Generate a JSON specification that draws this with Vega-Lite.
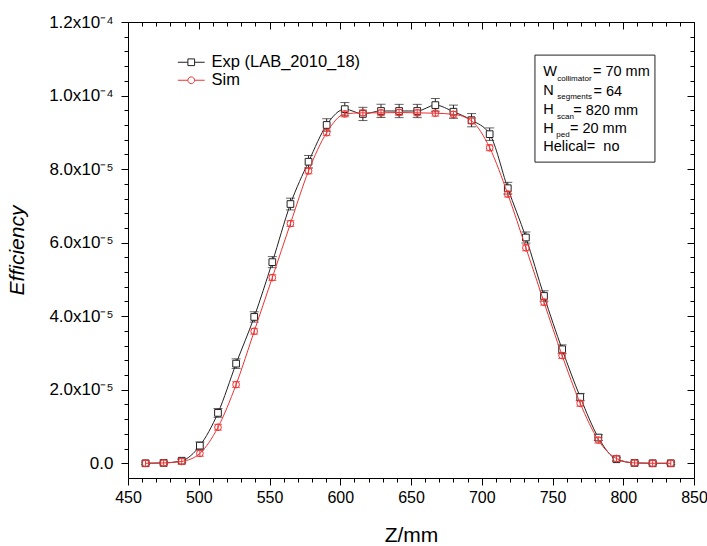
{
"$schema": "https://vega.github.io/schema/vega-lite/v6.json",
"width": 566, "height": 456,
"autosize": {"type": "none"},
"padding": {"left": 128, "top": 22, "right": 13, "bottom": 68},
"background": "white",
"config": {"view": {"stroke": null}, "axis": {"labelFont": "Liberation Sans", "titleFont": "Liberation Sans", "labelColor": "black", "titleColor": "black", "domainColor": "black", "tickColor": "black", "grid": false, "titleFontWeight": "normal", "domainWidth": 1, "tickWidth": 1}},
"data": {"values": [
{"z": 462.4, "series": "Exp (LAB_2010_18)", "eff": 0, "err": 3e-7},
{"z": 475.2, "series": "Exp (LAB_2010_18)", "eff": 1e-7, "err": 3e-7},
{"z": 488.0, "series": "Exp (LAB_2010_18)", "eff": 7e-7, "err": 4e-7},
{"z": 500.8, "series": "Exp (LAB_2010_18)", "eff": 4.8e-6, "err": 1.0e-6},
{"z": 513.6, "series": "Exp (LAB_2010_18)", "eff": 1.37e-5, "err": 1.2e-6},
{"z": 526.4, "series": "Exp (LAB_2010_18)", "eff": 2.71e-5, "err": 1.3e-6},
{"z": 539.2, "series": "Exp (LAB_2010_18)", "eff": 3.98e-5, "err": 1.4e-6},
{"z": 552.0, "series": "Exp (LAB_2010_18)", "eff": 5.47e-5, "err": 1.5e-6},
{"z": 564.8, "series": "Exp (LAB_2010_18)", "eff": 7.05e-5, "err": 1.6e-6},
{"z": 577.6, "series": "Exp (LAB_2010_18)", "eff": 8.2e-5, "err": 1.7e-6},
{"z": 590.4, "series": "Exp (LAB_2010_18)", "eff": 9.2e-5, "err": 1.7e-6},
{"z": 603.2, "series": "Exp (LAB_2010_18)", "eff": 9.63e-5, "err": 1.8e-6},
{"z": 616.0, "series": "Exp (LAB_2010_18)", "eff": 9.5e-5, "err": 1.8e-6},
{"z": 628.8, "series": "Exp (LAB_2010_18)", "eff": 9.58e-5, "err": 1.8e-6},
{"z": 641.6, "series": "Exp (LAB_2010_18)", "eff": 9.58e-5, "err": 1.8e-6},
{"z": 654.4, "series": "Exp (LAB_2010_18)", "eff": 9.58e-5, "err": 1.8e-6},
{"z": 667.2, "series": "Exp (LAB_2010_18)", "eff": 9.74e-5, "err": 1.8e-6},
{"z": 680.0, "series": "Exp (LAB_2010_18)", "eff": 9.56e-5, "err": 1.8e-6},
{"z": 692.8, "series": "Exp (LAB_2010_18)", "eff": 9.33e-5, "err": 1.8e-6},
{"z": 705.6, "series": "Exp (LAB_2010_18)", "eff": 8.95e-5, "err": 1.7e-6},
{"z": 718.4, "series": "Exp (LAB_2010_18)", "eff": 7.48e-5, "err": 1.6e-6},
{"z": 731.2, "series": "Exp (LAB_2010_18)", "eff": 6.14e-5, "err": 1.5e-6},
{"z": 744.0, "series": "Exp (LAB_2010_18)", "eff": 4.55e-5, "err": 1.4e-6},
{"z": 756.8, "series": "Exp (LAB_2010_18)", "eff": 3.10e-5, "err": 1.2e-6},
{"z": 769.6, "series": "Exp (LAB_2010_18)", "eff": 1.80e-5, "err": 1.0e-6},
{"z": 782.4, "series": "Exp (LAB_2010_18)", "eff": 7.0e-6, "err": 8e-7},
{"z": 795.2, "series": "Exp (LAB_2010_18)", "eff": 1.1e-6, "err": 5e-7},
{"z": 808.0, "series": "Exp (LAB_2010_18)", "eff": 1e-7, "err": 3e-7},
{"z": 820.8, "series": "Exp (LAB_2010_18)", "eff": 0, "err": 3e-7},
{"z": 833.6, "series": "Exp (LAB_2010_18)", "eff": 0, "err": 3e-7},
{"z": 462.4, "series": "Sim", "eff": 0, "err": 8e-7},
{"z": 475.2, "series": "Sim", "eff": 1e-7, "err": 8e-7},
{"z": 488.0, "series": "Sim", "eff": 5e-7, "err": 8e-7},
{"z": 500.8, "series": "Sim", "eff": 2.7e-6, "err": 8e-7},
{"z": 513.6, "series": "Sim", "eff": 9.8e-6, "err": 8e-7},
{"z": 526.4, "series": "Sim", "eff": 2.14e-5, "err": 8e-7},
{"z": 539.2, "series": "Sim", "eff": 3.59e-5, "err": 8e-7},
{"z": 552.0, "series": "Sim", "eff": 5.05e-5, "err": 8e-7},
{"z": 564.8, "series": "Sim", "eff": 6.52e-5, "err": 8e-7},
{"z": 577.6, "series": "Sim", "eff": 7.95e-5, "err": 8e-7},
{"z": 590.4, "series": "Sim", "eff": 8.99e-5, "err": 8e-7},
{"z": 603.2, "series": "Sim", "eff": 9.5e-5, "err": 8e-7},
{"z": 616.0, "series": "Sim", "eff": 9.53e-5, "err": 8e-7},
{"z": 628.8, "series": "Sim", "eff": 9.53e-5, "err": 8e-7},
{"z": 641.6, "series": "Sim", "eff": 9.54e-5, "err": 8e-7},
{"z": 654.4, "series": "Sim", "eff": 9.53e-5, "err": 8e-7},
{"z": 667.2, "series": "Sim", "eff": 9.52e-5, "err": 8e-7},
{"z": 680.0, "series": "Sim", "eff": 9.49e-5, "err": 8e-7},
{"z": 692.8, "series": "Sim", "eff": 9.31e-5, "err": 8e-7},
{"z": 705.6, "series": "Sim", "eff": 8.58e-5, "err": 8e-7},
{"z": 718.4, "series": "Sim", "eff": 7.32e-5, "err": 8e-7},
{"z": 731.2, "series": "Sim", "eff": 5.86e-5, "err": 8e-7},
{"z": 744.0, "series": "Sim", "eff": 4.38e-5, "err": 8e-7},
{"z": 756.8, "series": "Sim", "eff": 2.93e-5, "err": 8e-7},
{"z": 769.6, "series": "Sim", "eff": 1.63e-5, "err": 8e-7},
{"z": 782.4, "series": "Sim", "eff": 6.3e-6, "err": 8e-7},
{"z": 795.2, "series": "Sim", "eff": 1.3e-6, "err": 8e-7},
{"z": 808.0, "series": "Sim", "eff": 1e-7, "err": 8e-7},
{"z": 820.8, "series": "Sim", "eff": 0, "err": 8e-7},
{"z": 833.6, "series": "Sim", "eff": 0, "err": 8e-7}
]},
"layer": [
{"transform": [{"filter": "datum.series == 'Exp (LAB_2010_18)'"}],
 "mark": {"type": "line", "interpolate": "monotone", "color": "#222222", "strokeWidth": 1},
 "encoding": {
  "x": {"field": "z", "type": "quantitative", "scale": {"domain": [450, 850], "nice": false, "zero": false},
   "axis": {"orient": "bottom", "values": [450,460,470,480,490,500,510,520,530,540,550,560,570,580,590,600,610,620,630,640,650,660,670,680,690,700,710,720,730,740,750,760,770,780,790,800,810,820,830,840,850],
    "labelExpr": "datum.value % 50 == 0 ? datum.label : ''",
    "tickSize": {"condition": {"test": "datum.value % 50 == 0", "value": 7}, "value": 4},
    "labelFontSize": 16, "labelPadding": 4, "labelFlush": false, "labelOverlap": false,
    "title": "Z/mm", "titleFontSize": 21, "titlePadding": 19}},
  "y": {"field": "eff", "type": "quantitative", "scale": {"domain": [-0.000004, 0.00012], "nice": false, "zero": false},
   "axis": {"orient": "left", "values": [0,4e-6,8e-6,1.2e-5,1.6e-5,2e-5,2.4e-5,2.8e-5,3.2e-5,3.6e-5,4e-5,4.4e-5,4.8e-5,5.2e-5,5.6e-5,6e-5,6.4e-5,6.8e-5,7.2e-5,7.6e-5,8e-5,8.4e-5,8.8e-5,9.2e-5,9.6e-5,1e-4,1.04e-4,1.08e-4,1.12e-4,1.16e-4,1.2e-4],
    "labelExpr": "abs(datum.value*50000 - round(datum.value*50000)) > 0.01 ? '' : (datum.value == 0 ? '0.0' : (datum.value > 0.000099 ? format(datum.value*10000, '.1f') + 'x10⁻⁴' : format(datum.value*100000, '.1f') + 'x10⁻⁵'))",
    "tickSize": {"condition": {"test": "abs(datum.value*50000 - round(datum.value*50000)) < 0.01", "value": 7}, "value": 4},
    "labelFontSize": 17, "labelPadding": 8, "labelFlush": false, "labelOverlap": false,
    "title": "Efficiency", "titleFontSize": 21, "titleFontStyle": "italic", "titlePadding": 21}}
 }},
{"transform": [{"filter": "datum.series == 'Exp (LAB_2010_18)'"}],
 "mark": {"type": "errorbar", "ticks": true, "size": 9, "thickness": 1, "color": "#222222"},
 "encoding": {
  "x": {"field": "z", "type": "quantitative", "scale": {"domain": [450, 850], "nice": false, "zero": false}, "axis": null},
  "y": {"field": "eff", "type": "quantitative", "scale": {"domain": [-0.000004, 0.00012], "nice": false, "zero": false}, "axis": null},
  "yError": {"field": "err"}
 }},
{"transform": [{"filter": "datum.series == 'Exp (LAB_2010_18)'"}],
 "mark": {"type": "point", "shape": "square", "filled": true, "fill": "white", "stroke": "#222222", "strokeWidth": 1, "size": 45, "opacity": 1},
 "encoding": {
  "x": {"field": "z", "type": "quantitative", "scale": {"domain": [450, 850], "nice": false, "zero": false}, "axis": null},
  "y": {"field": "eff", "type": "quantitative", "scale": {"domain": [-0.000004, 0.00012], "nice": false, "zero": false}, "axis": null}
 }},
{"transform": [{"filter": "datum.series == 'Sim'"}],
 "mark": {"type": "line", "interpolate": "monotone", "color": "#ee3333", "strokeWidth": 1},
 "encoding": {
  "x": {"field": "z", "type": "quantitative", "scale": {"domain": [450, 850], "nice": false, "zero": false},
   "axis": {"orient": "top", "values": [450,460,470,480,490,500,510,520,530,540,550,560,570,580,590,600,610,620,630,640,650,660,670,680,690,700,710,720,730,740,750,760,770,780,790,800,810,820,830,840,850],
    "labels": false, "title": null,
    "tickSize": {"condition": {"test": "datum.value % 50 == 0", "value": -7}, "value": -4}}},
  "y": {"field": "eff", "type": "quantitative", "scale": {"domain": [-0.000004, 0.00012], "nice": false, "zero": false},
   "axis": {"orient": "right", "values": [0,4e-6,8e-6,1.2e-5,1.6e-5,2e-5,2.4e-5,2.8e-5,3.2e-5,3.6e-5,4e-5,4.4e-5,4.8e-5,5.2e-5,5.6e-5,6e-5,6.4e-5,6.8e-5,7.2e-5,7.6e-5,8e-5,8.4e-5,8.8e-5,9.2e-5,9.6e-5,1e-4,1.04e-4,1.08e-4,1.12e-4,1.16e-4,1.2e-4],
    "labels": false, "title": null,
    "tickSize": {"condition": {"test": "abs(datum.value*50000 - round(datum.value*50000)) < 0.01", "value": -7}, "value": -4}}}
 }},
{"transform": [{"filter": "datum.series == 'Sim'"}],
 "mark": {"type": "errorbar", "ticks": true, "size": 8, "thickness": 1, "color": "#ee3333"},
 "encoding": {
  "x": {"field": "z", "type": "quantitative", "scale": {"domain": [450, 850], "nice": false, "zero": false}, "axis": null},
  "y": {"field": "eff", "type": "quantitative", "scale": {"domain": [-0.000004, 0.00012], "nice": false, "zero": false}, "axis": null},
  "yError": {"field": "err"}
 }},
{"transform": [{"filter": "datum.series == 'Sim'"}],
 "mark": {"type": "point", "shape": "circle", "filled": false, "stroke": "#ee3333", "strokeWidth": 1, "size": 45, "opacity": 1},
 "encoding": {
  "x": {"field": "z", "type": "quantitative", "scale": {"domain": [450, 850], "nice": false, "zero": false}, "axis": null},
  "y": {"field": "eff", "type": "quantitative", "scale": {"domain": [-0.000004, 0.00012], "nice": false, "zero": false}, "axis": null}
 }},
{"mark": {"type": "point", "opacity": 0, "strokeWidth": 1},
 "encoding": {
  "x": {"field": "z", "type": "quantitative", "scale": {"domain": [450, 850], "nice": false, "zero": false}, "axis": null},
  "y": {"field": "eff", "type": "quantitative", "scale": {"domain": [-0.000004, 0.00012], "nice": false, "zero": false}, "axis": null},
  "shape": {"field": "series", "type": "nominal", "scale": {"domain": ["Exp (LAB_2010_18)", "Sim"], "range": ["M-2,0H-0.5M0.5,0H2M-0.5,-0.5H0.5V0.5H-0.5Z", "M-2,0H-0.5M0.5,0H2M-0.5,0A0.5,0.5,0,1,0,0.5,0A0.5,0.5,0,1,0,-0.5,0Z"]},
   "legend": {"orient": "none", "legendX": 55, "legendY": 32, "title": null, "labelFont": "Liberation Sans", "labelFontSize": 16.5, "labelColor": "black", "symbolSize": 180, "symbolStrokeWidth": 1, "symbolOpacity": 1, "symbolFillColor": "white", "labelOffset": 12, "rowPadding": 1}},
  "color": {"field": "series", "type": "nominal", "scale": {"domain": ["Exp (LAB_2010_18)", "Sim"], "range": ["#222222", "#ee3333"]},
   "legend": {"orient": "none", "legendX": 55, "legendY": 32, "title": null, "labelFont": "Liberation Sans", "labelFontSize": 16.5, "labelColor": "black", "symbolSize": 180, "symbolStrokeWidth": 1, "symbolOpacity": 1, "symbolFillColor": "white", "labelOffset": 12, "rowPadding": 1}}
 }},
{"data": {"values": [{}]},
 "mark": {"type": "rect", "fill": "white", "stroke": "#222222", "strokeWidth": 1},
 "encoding": {
  "x": {"datum": 737.6, "type": "quantitative", "scale": {"domain": [450, 850], "nice": false, "zero": false}, "axis": null},
  "x2": {"datum": 822.4},
  "y": {"datum": 0.000111, "type": "quantitative", "scale": {"domain": [-0.000004, 0.00012], "nice": false, "zero": false}, "axis": null},
  "y2": {"datum": 0.0000819}
 }},
{"data": {"values": [{}]}, "mark": {"type": "text", "text": "W", "align": "left", "baseline": "middle", "font": "Liberation Sans", "fontSize": 14.5, "color": "black"},
 "encoding": {"x": {"datum": 743.5, "type": "quantitative", "scale": {"domain": [450, 850], "nice": false, "zero": false}, "axis": null}, "y": {"datum": 0.0001065, "type": "quantitative", "scale": {"domain": [-0.000004, 0.00012], "nice": false, "zero": false}, "axis": null}}},
{"data": {"values": [{}]}, "mark": {"type": "text", "text": "collimator", "align": "left", "baseline": "middle", "font": "Liberation Sans", "fontSize": 8, "color": "black"},
 "encoding": {"x": {"datum": 753.4, "type": "quantitative", "scale": {"domain": [450, 850], "nice": false, "zero": false}, "axis": null}, "y": {"datum": 0.0001044, "type": "quantitative", "scale": {"domain": [-0.000004, 0.00012], "nice": false, "zero": false}, "axis": null}}},
{"data": {"values": [{}]}, "mark": {"type": "text", "text": "= 70 mm", "align": "left", "baseline": "middle", "font": "Liberation Sans", "fontSize": 14.5, "color": "black"},
 "encoding": {"x": {"datum": 778.6, "type": "quantitative", "scale": {"domain": [450, 850], "nice": false, "zero": false}, "axis": null}, "y": {"datum": 0.0001063, "type": "quantitative", "scale": {"domain": [-0.000004, 0.00012], "nice": false, "zero": false}, "axis": null}}},
{"data": {"values": [{}]}, "mark": {"type": "text", "text": "N", "align": "left", "baseline": "middle", "font": "Liberation Sans", "fontSize": 14.5, "color": "black"},
 "encoding": {"x": {"datum": 743.5, "type": "quantitative", "scale": {"domain": [450, 850], "nice": false, "zero": false}, "axis": null}, "y": {"datum": 0.0001013, "type": "quantitative", "scale": {"domain": [-0.000004, 0.00012], "nice": false, "zero": false}, "axis": null}}},
{"data": {"values": [{}]}, "mark": {"type": "text", "text": "segments", "align": "left", "baseline": "middle", "font": "Liberation Sans", "fontSize": 8, "color": "black"},
 "encoding": {"x": {"datum": 753.4, "type": "quantitative", "scale": {"domain": [450, 850], "nice": false, "zero": false}, "axis": null}, "y": {"datum": 0.0000995, "type": "quantitative", "scale": {"domain": [-0.000004, 0.00012], "nice": false, "zero": false}, "axis": null}}},
{"data": {"values": [{}]}, "mark": {"type": "text", "text": "= 64", "align": "left", "baseline": "middle", "font": "Liberation Sans", "fontSize": 14.5, "color": "black"},
 "encoding": {"x": {"datum": 779.0, "type": "quantitative", "scale": {"domain": [450, 850], "nice": false, "zero": false}, "axis": null}, "y": {"datum": 0.0001011, "type": "quantitative", "scale": {"domain": [-0.000004, 0.00012], "nice": false, "zero": false}, "axis": null}}},
{"data": {"values": [{}]}, "mark": {"type": "text", "text": "H", "align": "left", "baseline": "middle", "font": "Liberation Sans", "fontSize": 14.5, "color": "black"},
 "encoding": {"x": {"datum": 743.5, "type": "quantitative", "scale": {"domain": [450, 850], "nice": false, "zero": false}, "axis": null}, "y": {"datum": 0.000096, "type": "quantitative", "scale": {"domain": [-0.000004, 0.00012], "nice": false, "zero": false}, "axis": null}}},
{"data": {"values": [{}]}, "mark": {"type": "text", "text": "scan", "align": "left", "baseline": "middle", "font": "Liberation Sans", "fontSize": 8, "color": "black"},
 "encoding": {"x": {"datum": 753.2, "type": "quantitative", "scale": {"domain": [450, 850], "nice": false, "zero": false}, "axis": null}, "y": {"datum": 0.0000942, "type": "quantitative", "scale": {"domain": [-0.000004, 0.00012], "nice": false, "zero": false}, "axis": null}}},
{"data": {"values": [{}]}, "mark": {"type": "text", "text": "= 820 mm", "align": "left", "baseline": "middle", "font": "Liberation Sans", "fontSize": 14.5, "color": "black"},
 "encoding": {"x": {"datum": 764.6, "type": "quantitative", "scale": {"domain": [450, 850], "nice": false, "zero": false}, "axis": null}, "y": {"datum": 0.0000959, "type": "quantitative", "scale": {"domain": [-0.000004, 0.00012], "nice": false, "zero": false}, "axis": null}}},
{"data": {"values": [{}]}, "mark": {"type": "text", "text": "H", "align": "left", "baseline": "middle", "font": "Liberation Sans", "fontSize": 14.5, "color": "black"},
 "encoding": {"x": {"datum": 743.5, "type": "quantitative", "scale": {"domain": [450, 850], "nice": false, "zero": false}, "axis": null}, "y": {"datum": 0.000091, "type": "quantitative", "scale": {"domain": [-0.000004, 0.00012], "nice": false, "zero": false}, "axis": null}}},
{"data": {"values": [{}]}, "mark": {"type": "text", "text": "ped", "align": "left", "baseline": "middle", "font": "Liberation Sans", "fontSize": 8, "color": "black"},
 "encoding": {"x": {"datum": 752.7, "type": "quantitative", "scale": {"domain": [450, 850], "nice": false, "zero": false}, "axis": null}, "y": {"datum": 0.0000892, "type": "quantitative", "scale": {"domain": [-0.000004, 0.00012], "nice": false, "zero": false}, "axis": null}}},
{"data": {"values": [{}]}, "mark": {"type": "text", "text": "= 20 mm", "align": "left", "baseline": "middle", "font": "Liberation Sans", "fontSize": 14.5, "color": "black"},
 "encoding": {"x": {"datum": 762.3, "type": "quantitative", "scale": {"domain": [450, 850], "nice": false, "zero": false}, "axis": null}, "y": {"datum": 0.0000909, "type": "quantitative", "scale": {"domain": [-0.000004, 0.00012], "nice": false, "zero": false}, "axis": null}}},
{"data": {"values": [{}]}, "mark": {"type": "text", "text": "Helical=\u00a0 no", "align": "left", "baseline": "middle", "font": "Liberation Sans", "fontSize": 14.5, "color": "black"},
 "encoding": {"x": {"datum": 743.5, "type": "quantitative", "scale": {"domain": [450, 850], "nice": false, "zero": false}, "axis": null}, "y": {"datum": 0.0000859, "type": "quantitative", "scale": {"domain": [-0.000004, 0.00012], "nice": false, "zero": false}, "axis": null}}}
],
"resolve": {"axis": {"x": "independent", "y": "independent"}}
}
